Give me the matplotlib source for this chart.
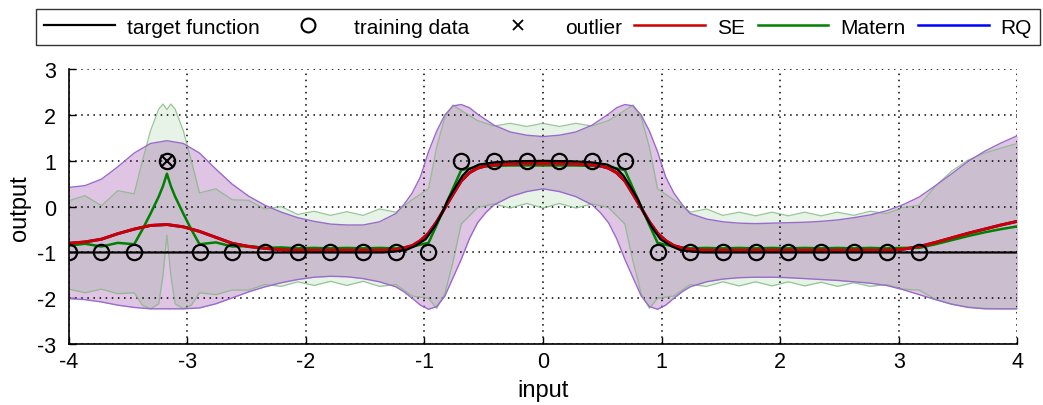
import numpy as np
import matplotlib.pyplot as plt
from matplotlib.lines import Line2D

plt.rcParams['font.family'] = ['Liberation Sans', 'DejaVu Sans']
plt.rcParams['axes.unicode_minus'] = False

# training inputs / targets
train_x = [-4.000, -3.724, -3.448, -3.172, -2.897, -2.621, -2.345, -2.069, -1.793,
           -1.517, -1.241, -0.966, -0.690, -0.414, -0.138, 0.138, 0.414, 0.690,
           0.966, 1.241, 1.517, 1.793, 2.069, 2.345, 2.621, 2.897, 3.172]
train_y = [-1, -1, -1, 1, -1, -1, -1, -1, -1,
           -1, -1, -1, 1, 1, 1, 1, 1, 1,
           -1, -1, -1, -1, -1, -1, -1, -1, -1]
outlier_x = [-3.172]
outlier_y = [1]

# target function
target_x = [-4.0, -1.35, -1.25, -1.16, -1.08, -0.99, -0.91, -0.85, -0.80, -0.74, -0.68,
            -0.63, -0.54, -0.40, -0.25, 0.0, 0.25, 0.40, 0.54, 0.63, 0.68, 0.74, 0.80,
            0.85, 0.91, 0.99, 1.08, 1.16, 1.25, 1.35, 4.0]
target_y = [-1.0, -1.0, -0.98, -0.95, -0.86, -0.71, -0.42, -0.13, 0.16, 0.42, 0.67,
            0.81, 0.92, 0.97, 0.99, 1.0, 0.99, 0.97, 0.92, 0.81, 0.67, 0.42, 0.16,
            -0.13, -0.42, -0.71, -0.86, -0.95, -0.98, -1.0, -1.0]

# SE (and RQ) posterior
se_x = [-4.0, -3.862, -3.724, -3.586, -3.448, -3.310, -3.172, -3.034, -2.897, -2.759,
        -2.621, -2.483, -2.345, -2.207, -2.069, -1.931, -1.793, -1.655, -1.517, -1.379,
        -1.241, -1.172, -1.103, -1.034, -0.966, -0.897, -0.828, -0.759, -0.690, -0.621,
        -0.552, -0.483, -0.414, -0.276, -0.138, 0.0, 0.138, 0.276, 0.414, 0.483,
        0.552, 0.621, 0.690, 0.759, 0.828, 0.897, 0.966, 1.034, 1.103, 1.172,
        1.241, 1.379, 1.517, 1.655, 1.793, 1.931, 2.069, 2.207, 2.345, 2.483,
        2.621, 2.759, 2.897, 3.034, 3.172, 3.310, 3.448, 3.586, 3.724, 3.862, 4.0]
se_mean = [-0.80, -0.77, -0.71, -0.59, -0.49, -0.41, -0.39, -0.44, -0.54, -0.67,
           -0.80, -0.87, -0.91, -0.94, -0.95, -0.95, -0.95, -0.95, -0.95, -0.95,
           -0.94, -0.90, -0.85, -0.74, -0.58, -0.33, -0.03, 0.27, 0.56, 0.74,
           0.84, 0.89, 0.91, 0.93, 0.94, 0.94, 0.94, 0.93, 0.91, 0.89,
           0.84, 0.74, 0.56, 0.27, -0.03, -0.33, -0.58, -0.74, -0.85, -0.90,
           -0.94, -0.95, -0.95, -0.95, -0.95, -0.95, -0.95, -0.95, -0.95, -0.95,
           -0.95, -0.95, -0.95, -0.93, -0.87, -0.78, -0.68, -0.58, -0.49, -0.40, -0.32]
se_upper = [0.42, 0.46, 0.60, 0.87, 1.17, 1.38, 1.44, 1.38, 1.17, 0.82,
            0.49, 0.23, 0.03, -0.12, -0.24, -0.32, -0.38, -0.40, -0.40, -0.33,
            -0.15, 0.05, 0.30, 0.65, 1.20, 1.65, 2.00, 2.20, 2.23, 2.16,
            2.02, 1.90, 1.78, 1.63, 1.56, 1.53, 1.56, 1.63, 1.78, 1.90,
            2.02, 2.16, 2.23, 2.20, 2.00, 1.65, 1.20, 0.65, 0.30, 0.05,
            -0.15, -0.27, -0.33, -0.36, -0.37, -0.36, -0.35, -0.34, -0.32, -0.29,
            -0.24, -0.18, -0.09, 0.04, 0.21, 0.46, 0.72, 0.99, 1.21, 1.39, 1.55]
se_lower = [-2.00, -2.03, -2.08, -2.15, -2.20, -2.23, -2.23, -2.23, -2.21, -2.12,
            -1.99, -1.86, -1.75, -1.66, -1.59, -1.54, -1.52, -1.53, -1.57, -1.64,
            -1.75, -1.86, -2.00, -2.15, -2.24, -2.18, -1.95, -1.55, -1.15, -0.70,
            -0.35, -0.13, 0.04, 0.22, 0.33, 0.39, 0.33, 0.22, 0.04, -0.13,
            -0.35, -0.70, -1.15, -1.55, -1.95, -2.18, -2.24, -2.15, -2.00, -1.86,
            -1.75, -1.64, -1.58, -1.55, -1.54, -1.54, -1.55, -1.57, -1.59, -1.61,
            -1.64, -1.67, -1.72, -1.81, -1.92, -2.03, -2.13, -2.20, -2.23, -2.23, -2.23]
rq_mean = list(se_mean)
rq_upper = list(se_upper)
rq_lower = list(se_lower)

# Matern posterior
mat_x = [-4.0, -3.862, -3.724, -3.586, -3.448, -3.379, -3.310, -3.241, -3.205, -3.172,
         -3.139, -3.103, -3.034, -2.966, -2.897, -2.759, -2.621, -2.483, -2.345, -2.207,
         -2.069, -1.931, -1.793, -1.655, -1.517, -1.379, -1.241, -1.103, -0.966, -0.897,
         -0.828, -0.759, -0.690, -0.552, -0.414, -0.276, -0.138, 0.0, 0.138, 0.276,
         0.414, 0.552, 0.690, 0.759, 0.828, 0.897, 0.966, 1.103, 1.241, 1.379,
         1.517, 1.655, 1.793, 1.931, 2.069, 2.207, 2.345, 2.483, 2.621, 2.759,
         2.897, 3.034, 3.172, 3.310, 3.448, 3.586, 3.724, 3.862, 4.0]
mat_mean = [-0.85, -0.81, -0.87, -0.79, -0.82, -0.50, -0.15, 0.22, 0.45, 0.72,
            0.45, 0.22, -0.15, -0.50, -0.82, -0.78, -0.87, -0.86, -0.90, -0.89,
            -0.91, -0.90, -0.91, -0.90, -0.91, -0.90, -0.91, -0.87, -0.79, -0.40,
            0.0, 0.40, 0.80, 0.87, 0.89, 0.90, 0.90, 0.90, 0.90, 0.90,
            0.89, 0.87, 0.80, 0.40, 0.0, -0.40, -0.79, -0.87, -0.91, -0.90,
            -0.91, -0.90, -0.91, -0.90, -0.91, -0.90, -0.91, -0.90, -0.91, -0.90,
            -0.91, -0.90, -0.90, -0.82, -0.73, -0.64, -0.56, -0.49, -0.43]
mat_upper = [0.13, 0.24, 0.02, 0.35, 0.28, 1.00, 1.66, 2.13, 2.24, 2.12,
             2.24, 2.13, 1.66, 1.00, 0.30, 0.39, 0.15, 0.14, -0.05, 0.00,
             -0.17, -0.10, -0.19, -0.11, -0.19, -0.05, -0.12, 0.15, 0.39, 1.30,
             1.95, 2.22, 2.10, 1.88, 1.76, 1.82, 1.75, 1.82, 1.75, 1.82,
             1.76, 1.88, 2.10, 2.22, 1.95, 1.30, 0.39, 0.15, -0.12, -0.05,
             -0.19, -0.12, -0.20, -0.12, -0.20, -0.12, -0.20, -0.12, -0.19, -0.10,
             -0.15, -0.02, 0.03, 0.45, 0.78, 1.02, 1.17, 1.28, 1.38]
mat_lower = [-1.80, -1.88, -1.80, -1.90, -1.88, -2.15, -2.23, -2.12, -1.50, -0.62,
             -1.50, -2.12, -2.23, -2.15, -1.88, -1.92, -1.82, -1.82, -1.70, -1.74,
             -1.64, -1.72, -1.63, -1.72, -1.63, -1.74, -1.70, -1.95, -2.00, -2.22,
             -1.90, -1.20, -0.38, -0.02, 0.06, -0.03, 0.07, -0.03, 0.07, -0.03,
             0.06, -0.02, -0.38, -1.20, -1.90, -2.22, -2.00, -1.95, -1.70, -1.74,
             -1.64, -1.73, -1.64, -1.73, -1.64, -1.73, -1.65, -1.74, -1.66, -1.74,
             -1.70, -1.80, -1.82, -2.02, -2.13, -2.19, -2.22, -2.23, -2.23]

fig = plt.figure(figsize=(10.43, 4.06), dpi=100)
ax = fig.add_axes([0.0659, 0.150, 0.9095, 0.677])

# confidence bands
ax.fill_between(se_x, se_lower, se_upper, color='red', alpha=0.12, lw=0)
ax.fill_between(se_x, rq_lower, rq_upper, color='blue', alpha=0.12, lw=0)
ax.fill_between(mat_x, mat_lower, mat_upper, color=(0.1, 0.55, 0.1), alpha=0.10, lw=0)
for yy in (mat_upper, mat_lower):
    ax.plot(mat_x, yy, color=(0.5, 0.72, 0.5), lw=0.9, alpha=0.8)
for yy in (se_upper, se_lower):
    ax.plot(se_x, yy, color=(0.6, 0.42, 0.8), lw=1.0)

# means
ax.plot(se_x, rq_mean, color='blue', lw=2.0)
ax.plot(mat_x, mat_mean, color=(0.0, 0.5, 0.0), lw=1.8)
ax.plot(se_x, se_mean, color=(0.8, 0.0, 0.0), lw=2.2)
ax.plot(target_x, target_y, color='black', lw=1.6)

ax.plot(train_x, train_y, 'o', mfc='none', mec='black', ms=11, mew=1.6)
ax.plot(outlier_x, outlier_y, 'x', color='black', ms=8, mew=1.5)

ax.set_xlim(-4, 4)
ax.set_ylim(-3, 3)
ax.set_xticks(range(-4, 5))
ax.set_yticks(range(-3, 4))
ax.grid(True, color='black', linestyle=(0, (1, 3.0)), lw=1.1)
for s in ('top', 'right'):
    ax.spines[s].set_visible(False)
for s in ('left', 'bottom'):
    ax.spines[s].set_linewidth(1.2)
ax.tick_params(direction='in', length=5, width=1, labelsize=15.5)
ax.tick_params(axis='y', pad=9)
ax.tick_params(axis='x', pad=5)
ax.set_xlabel('input', fontsize=17, labelpad=5)
ax.set_ylabel('output', fontsize=17, labelpad=4)

handles = [
    Line2D([], [], color='black', lw=1.6),
    Line2D([], [], ls='none', marker='o', mfc='none', mec='black', ms=10, mew=1.5),
    Line2D([], [], ls='none', marker='x', color='black', ms=7, mew=1.3),
    Line2D([], [], color=(0.8, 0.0, 0.0), lw=1.8),
    Line2D([], [], color=(0.0, 0.5, 0.0), lw=1.8),
    Line2D([], [], color='blue', lw=1.8),
]
labels = ['target function', 'training data', 'outlier', 'SE', 'Matern', 'RQ']
leg = fig.legend(handles, labels, loc='lower left', ncol=6, mode='expand',
                 bbox_to_anchor=(0.0345, 0.887, 0.9625, 0.093), fontsize=15,
                 handlelength=3.4, handletextpad=0.55, borderaxespad=0,
                 frameon=True, fancybox=False, edgecolor='black', borderpad=0.4)
leg.get_frame().set_linewidth(1.0)

fig.savefig('out.png', dpi=100)
